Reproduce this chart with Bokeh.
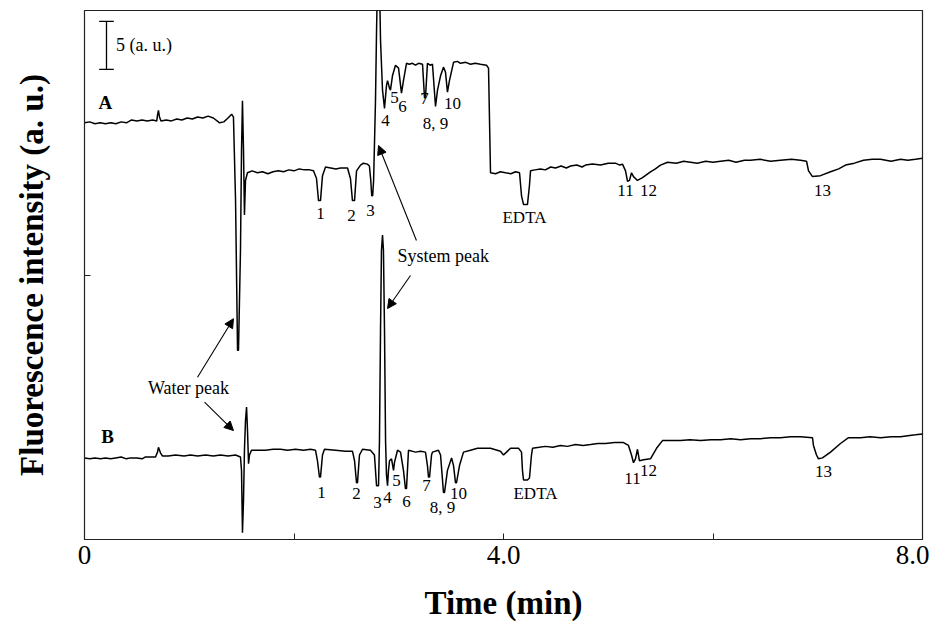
from bokeh.plotting import figure
from bokeh.models import Range1d, FixedTicker, Label, Arrow, NormalHead
from bokeh.embed import file_html
from bokeh.resources import INLINE

# ---------------- data (time in min, fluorescence in a.u.) ----------------
time_a = [0.000, 0.050, 0.100, 0.150, 0.200, 0.250, 0.300, 0.350, 0.400, 0.450,
          0.500, 0.550, 0.600, 0.650, 0.690, 0.697, 0.706, 0.716, 0.730, 0.780,
          0.830, 0.880, 0.930, 0.980, 1.030, 1.080, 1.130, 1.180, 1.230, 1.290,
          1.330, 1.370, 1.405, 1.422, 1.442, 1.461, 1.470, 1.489, 1.499, 1.508,
          1.518, 1.527, 1.537, 1.556, 1.600, 1.650, 1.700, 1.750, 1.800, 1.850,
          1.900, 1.950, 2.000, 2.050, 2.100, 2.150, 2.186, 2.215, 2.234, 2.253,
          2.272, 2.301, 2.350, 2.400, 2.444, 2.511, 2.539, 2.558, 2.578, 2.597,
          2.635, 2.663, 2.700, 2.720, 2.733, 2.742, 2.751, 2.760, 2.778, 2.788,
          2.797, 2.816, 2.826, 2.845, 2.864, 2.883, 2.893, 2.912, 2.921, 2.940,
          2.969, 2.998, 3.026, 3.045, 3.074, 3.100, 3.131, 3.160, 3.189, 3.227,
          3.246, 3.255, 3.274, 3.300, 3.322, 3.351, 3.370, 3.399, 3.427, 3.446,
          3.465, 3.484, 3.523, 3.560, 3.589, 3.640, 3.685, 3.730, 3.780, 3.838,
          3.857, 3.876, 3.924, 3.970, 4.019, 4.070, 4.115, 4.153, 4.172, 4.191,
          4.229, 4.248, 4.258, 4.300, 4.353, 4.400, 4.450, 4.496, 4.550, 4.600,
          4.640, 4.700, 4.750, 4.783, 4.850, 4.926, 5.000, 5.069, 5.110, 5.136,
          5.165, 5.184, 5.203, 5.222, 5.241, 5.279, 5.327, 5.403, 5.450, 5.499,
          5.566, 5.650, 5.720, 5.785, 5.850, 5.930, 6.000, 6.072, 6.150, 6.220,
          6.300, 6.358, 6.450, 6.550, 6.644, 6.750, 6.835, 6.893, 6.912, 6.950,
          7.026, 7.122, 7.200, 7.265, 7.350, 7.437, 7.520, 7.599, 7.700, 7.790,
          7.860, 7.933, 8.000]
signal_a = [43.4, 43.5, 43.3, 43.4, 43.3, 43.4, 43.3, 43.5, 43.4, 43.7,
            43.6, 43.7, 43.6, 43.7, 43.6, 44.2, 44.7, 44.0, 43.6, 43.7,
            43.6, 43.8, 43.7, 43.9, 43.8, 44.0, 43.9, 44.1, 43.9, 43.4,
            43.5, 43.9, 44.3, 44.0, 35.3, 19.7, 19.7, 30.1, 40.5, 45.7,
            40.5, 33.8, 37.4, 38.2, 38.4, 38.2, 38.3, 38.1, 38.3, 38.4,
            38.3, 38.5, 38.4, 38.6, 38.5, 38.5, 38.4, 37.6, 35.3, 35.3,
            37.9, 38.8, 38.7, 38.6, 38.7, 38.7, 37.6, 35.3, 35.3, 38.4,
            39.0, 39.2, 39.1, 38.9, 37.4, 35.8, 35.8, 37.4, 45.7, 53.0,
            58.2, 58.2, 52.0, 46.8, 44.9, 47.3, 47.8, 47.0, 46.8, 48.3,
            49.4, 49.1, 46.5, 47.8, 49.6, 49.5, 49.6, 49.4, 49.6, 49.5,
            46.0, 46.0, 49.6, 49.4, 49.5, 45.1, 46.8, 48.3, 49.2, 48.7,
            46.6, 47.8, 49.7, 49.8, 49.6, 49.7, 49.5, 49.6, 49.5, 49.4,
            49.1, 38.2, 38.1, 38.3, 38.2, 38.1, 38.3, 38.2, 35.8, 34.9,
            34.9, 36.9, 38.4, 38.5, 38.6, 38.5, 38.8, 38.7, 38.9, 38.7,
            38.9, 39.0, 38.8, 39.0, 39.1, 39.0, 39.2, 39.2, 39.0, 39.1,
            38.4, 37.3, 37.4, 38.2, 37.8, 37.4, 37.7, 38.3, 38.6, 39.0,
            39.3, 39.2, 39.4, 39.3, 39.2, 39.4, 39.3, 39.4, 39.5, 39.3,
            39.5, 39.5, 39.6, 39.4, 39.5, 39.6, 39.5, 39.4, 38.4, 37.8,
            37.9, 38.3, 38.6, 39.0, 39.2, 39.5, 39.6, 39.6, 39.4, 39.6,
            39.5, 39.6, 39.7]

time_b = [0.000, 0.050, 0.100, 0.153, 0.200, 0.250, 0.296, 0.350, 0.400, 0.439,
          0.500, 0.550, 0.582, 0.640, 0.678, 0.697, 0.706, 0.726, 0.745, 0.800,
          0.869, 0.950, 1.012, 1.080, 1.155, 1.230, 1.298, 1.370, 1.442, 1.489,
          1.499, 1.508, 1.518, 1.527, 1.537, 1.547, 1.556, 1.566, 1.575, 1.594,
          1.660, 1.728, 1.800, 1.871, 1.940, 2.014, 2.090, 2.158, 2.205, 2.224,
          2.243, 2.253, 2.272, 2.291, 2.396, 2.492, 2.558, 2.578, 2.597, 2.606,
          2.625, 2.654, 2.730, 2.768, 2.788, 2.807, 2.816, 2.826, 2.835, 2.845,
          2.854, 2.864, 2.874, 2.883, 2.893, 2.902, 2.912, 2.931, 2.950, 2.959,
          2.988, 3.017, 3.045, 3.064, 3.074, 3.093, 3.160, 3.208, 3.255, 3.274,
          3.284, 3.294, 3.313, 3.322, 3.379, 3.399, 3.427, 3.437, 3.465, 3.504,
          3.523, 3.542, 3.551, 3.580, 3.618, 3.685, 3.752, 3.876, 3.971, 4.000,
          4.029, 4.067, 4.143, 4.172, 4.181, 4.191, 4.229, 4.248, 4.267, 4.277,
          4.340, 4.401, 4.470, 4.544, 4.610, 4.687, 4.760, 4.831, 4.900, 4.974,
          5.060, 5.146, 5.193, 5.222, 5.241, 5.260, 5.279, 5.298, 5.337, 5.403,
          5.461, 5.518, 5.600, 5.690, 5.780, 5.881, 5.980, 6.072, 6.170, 6.263,
          6.360, 6.453, 6.550, 6.644, 6.740, 6.835, 6.950, 6.959, 6.988, 7.007,
          7.045, 7.122, 7.217, 7.294, 7.408, 7.500, 7.599, 7.700, 7.790, 7.860,
          7.933, 8.000]
signal_b = [8.5, 8.4, 8.5, 8.4, 8.5, 8.4, 8.5, 8.6, 8.4, 8.5,
            8.5, 8.4, 8.6, 8.6, 8.6, 9.1, 9.6, 9.0, 8.7, 8.7,
            8.8, 8.7, 8.8, 8.7, 8.8, 8.7, 8.8, 8.7, 8.8, 8.6,
            7.2, 0.7, 4.1, 9.3, 12.4, 13.8, 11.4, 7.9, 8.8, 9.3,
            9.3, 9.3, 9.4, 9.4, 9.3, 9.4, 9.3, 9.4, 9.3, 8.2,
            6.5, 6.5, 8.8, 9.4, 9.3, 9.2, 9.2, 8.2, 5.9, 5.9,
            8.8, 9.4, 9.3, 8.8, 5.6, 5.6, 10.3, 21.8, 30.1, 31.7,
            30.1, 21.8, 10.3, 6.7, 5.6, 7.2, 8.2, 8.4, 7.2, 8.0,
            9.3, 9.1, 7.2, 5.3, 5.3, 9.3, 9.1, 9.2, 9.1, 7.7,
            6.5, 6.5, 8.8, 9.1, 9.3, 8.8, 4.9, 4.9, 7.2, 8.5,
            7.7, 5.9, 5.9, 7.7, 9.1, 9.3, 9.5, 9.5, 9.2, 8.8,
            9.1, 9.5, 9.5, 9.1, 7.2, 6.2, 6.2, 6.4, 8.8, 9.5,
            9.6, 9.7, 9.6, 9.8, 9.7, 9.9, 9.8, 9.9, 10.0, 10.0,
            10.1, 10.1, 9.8, 8.8, 8.0, 8.4, 9.4, 8.2, 8.3, 8.4,
            9.5, 10.3, 10.3, 10.3, 10.4, 10.3, 10.4, 10.4, 10.5, 10.4,
            10.5, 10.5, 10.6, 10.6, 10.7, 10.7, 10.6, 9.8, 8.8, 8.4,
            8.5, 9.1, 10.0, 10.6, 10.6, 10.7, 10.6, 10.7, 10.7, 10.8,
            10.9, 11.0]

# peak labels: text, time, intensity
labels_a_text = ["1", "2", "3", "4", "5", "6", "7", "8, 9", "10", "EDTA", "11", "12", "13"]
labels_a_t = [2.253, 2.549, 2.730, 2.874, 2.959, 3.036, 3.246, 3.351, 3.513, 4.200, 5.165, 5.384, 7.045]
labels_a_y = [33.96, 33.75, 34.27, 43.65, 46.04, 45.10, 45.94, 43.33, 45.42, 33.54, 36.35, 36.35, 36.35]

labels_b_text = ["1", "2", "3", "4", "5", "6", "7", "8, 9", "10", "EDTA", "11", "12", "13"]
labels_b_t = [2.262, 2.597, 2.797, 2.893, 2.978, 3.074, 3.265, 3.418, 3.570, 4.305, 5.232, 5.384, 7.055]
labels_b_y = [4.90, 4.79, 3.85, 4.38, 6.15, 3.96, 5.63, 3.33, 4.79, 4.79, 6.35, 7.19, 7.08]

x_ticks = [0, 2, 4, 6, 8]
x_tick_labels = {0: "0", 2: "", 4: "4.0", 6: "", 8: "8.0"}

SERIF = "Liberation Serif"

p = figure(width=929, height=626, x_range=Range1d(0, 8), y_range=Range1d(0, 55.1),
           output_backend="svg", toolbar_location=None,
           min_border_left=84, min_border_right=7, min_border_top=10, min_border_bottom=87)
p.grid.visible = False
p.outline_line_color = "#222222"
p.outline_line_width = 1.2
p.background_fill_color = "white"
p.border_fill_color = "white"

p.line(time_a, signal_a, line_color="black", line_width=1.5)
p.line(time_b, signal_b, line_color="black", line_width=1.5)

# x axis
xa = p.xaxis[0]
xa.ticker = FixedTicker(ticks=x_ticks)
xa.major_label_overrides = x_tick_labels
xa.major_tick_in = 6
xa.major_tick_out = 0
xa.minor_tick_in = 0
xa.minor_tick_out = 0
xa.axis_line_color = "#222222"
xa.major_tick_line_color = "#222222"
xa.major_label_text_font = SERIF
xa.major_label_text_font_size = "27px"
xa.major_label_text_color = "black"
xa.major_label_standoff = 6
xa.axis_label = "Time (min)"
xa.axis_label_text_font = SERIF
xa.axis_label_text_font_style = "bold"
xa.axis_label_text_font_size = "33px"
xa.axis_label_text_color = "black"
xa.axis_label_standoff = 18

# y axis
ya = p.yaxis[0]
ya.ticker = FixedTicker(ticks=[27.55])
ya.major_label_overrides = {27.55: ""}
ya.major_label_text_font_size = "1px"
ya.major_label_standoff = 0
ya.major_tick_in = 6
ya.major_tick_out = 0
ya.minor_tick_in = 0
ya.minor_tick_out = 0
ya.axis_line_color = "#222222"
ya.major_tick_line_color = "#222222"
ya.axis_label = "Fluorescence intensity (a. u.)"
ya.axis_label_text_font = SERIF
ya.axis_label_text_font_style = "bold"
ya.axis_label_text_font_size = "33px"
ya.axis_label_text_color = "black"
ya.axis_label_standoff = 35

# scale bar 5 a.u.
bar_x, bar_y0, bar_len, cap = 0.21, 48.96, 5.0, 0.07
p.segment(x0=[bar_x, bar_x - cap, bar_x - cap], y0=[bar_y0, bar_y0, bar_y0 + bar_len],
          x1=[bar_x, bar_x + cap, bar_x + cap], y1=[bar_y0 + bar_len, bar_y0, bar_y0 + bar_len],
          line_color="black", line_width=1.3)
p.add_layout(Label(x=0.30, y=51.46, text="5 (a. u.)", text_align="left", text_baseline="middle",
                   text_font=SERIF, text_font_size="18px", text_color="black"))

# trace names
for name, tx, ty in [("A", 0.20, 45.5), ("B", 0.22, 10.7)]:
    p.add_layout(Label(x=tx, y=ty, text=name, text_align="center", text_baseline="middle",
                       text_font=SERIF, text_font_style="bold", text_font_size="19px",
                       text_color="black"))

# peak labels
for txts, ts, ys in [(labels_a_text, labels_a_t, labels_a_y), (labels_b_text, labels_b_t, labels_b_y)]:
    for s, tx, ty in zip(txts, ts, ys):
        p.add_layout(Label(x=tx, y=ty, text=s, text_align="center", text_baseline="middle",
                           text_font=SERIF, text_font_size="17px", text_color="black"))

# annotations with arrows
p.add_layout(Label(x=0.993, y=15.83, text="Water peak", text_align="center", text_baseline="middle",
                   text_font=SERIF, text_font_size="18px", text_color="black"))
p.add_layout(Label(x=2.988, y=29.58, text="System peak", text_align="left", text_baseline="middle",
                   text_font=SERIF, text_font_size="18px", text_color="black"))

arrows = [(1.079, 16.9, 1.422, 23.0),
          (1.146, 14.3, 1.422, 11.35),
          (3.169, 31.15, 2.807, 41.04),
          (3.112, 27.5, 2.893, 24.06)]
for xs, ys_, xe, ye in arrows:
    p.add_layout(Arrow(end=NormalHead(size=9, fill_color="black", line_color="black", line_width=1),
                       x_start=xs, y_start=ys_, x_end=xe, y_end=ye,
                       line_color="black", line_width=1.1))

open("out.html", "w").write(file_html(p, INLINE))
